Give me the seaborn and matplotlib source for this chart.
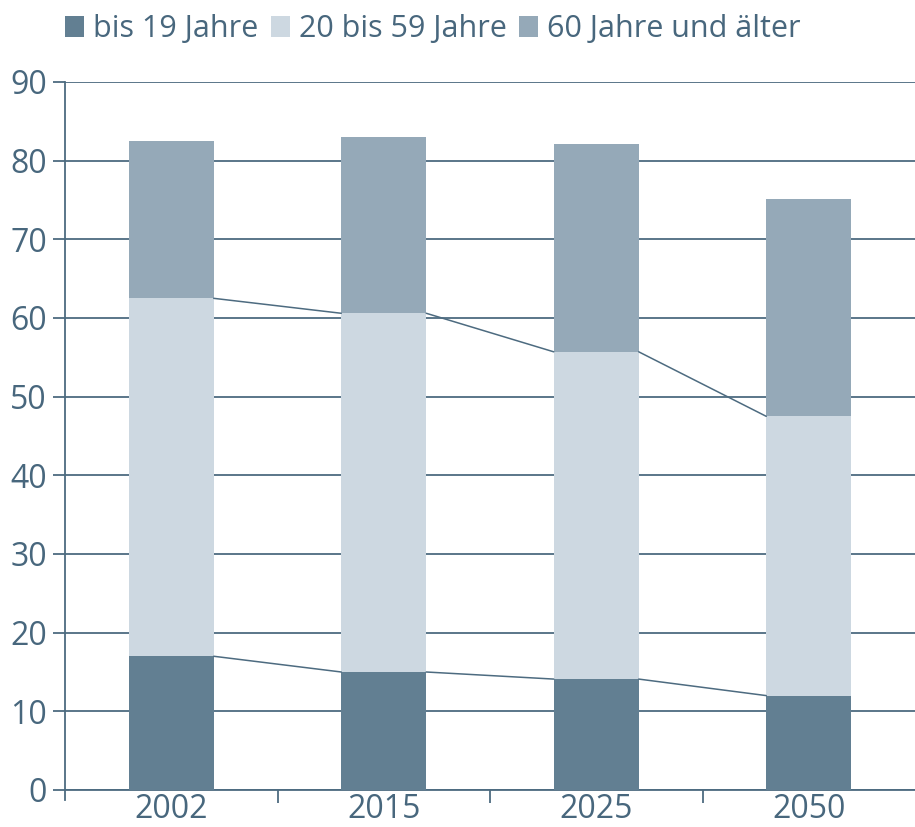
import matplotlib
matplotlib.use("Agg")
import matplotlib.pyplot as plt
import seaborn as sns
import pandas as pd
import numpy as np

years = ["2002", "2015", "2025", "2050"]
bis19 = [17.0, 15.0, 14.1, 12.0]
mitte = [45.5, 45.6, 41.6, 35.5]
alt60 = [20.0, 22.4, 26.4, 27.6]
labels = ["bis 19 Jahre", "20 bis 59 Jahre", "60 Jahre und älter"]
colors = ["#627f92", "#cdd8e1", "#95a9b8"]
text_c = "#48677d"
line_c = "#4d6b80"

sns.set_theme(style="white")
plt.rcParams["font.family"] = ["Open Sans", "DejaVu Sans"]

df = pd.DataFrame({"Jahr": years, labels[0]: bis19, labels[1]: mitte, labels[2]: alt60})

fig = plt.figure(figsize=(9.15, 8.27), dpi=100)
ax = fig.add_axes([65 / 915, 1 - 790 / 827, 850 / 915, (790 - 82) / 827])

bottom = np.zeros(len(years))
tops = []
for lab, col in zip(labels, colors):
    sns.barplot(data=df, x="Jahr", y=lab, color=col, width=0.4, bottom=bottom,
                saturation=1, label=lab, ax=ax, zorder=3, linewidth=0)
    bottom = bottom + df[lab].to_numpy()
    tops.append(bottom.copy())

# Verbindungslinien zwischen den Säulen
for level in tops[:2]:
    for i in range(len(years) - 1):
        ax.plot([i + 0.2, i + 0.8], [level[i], level[i + 1]], color=line_c, lw=1.1, zorder=4)

ax.set_xlim(-0.5, 3.5)
ax.set_ylim(0, 90)
ax.set_yticks(range(0, 91, 10))
ax.yaxis.grid(True, color=line_c, lw=1.3, zorder=0)
ax.set_xlabel("")
ax.set_ylabel("")
for s in ["top", "right"]:
    ax.spines[s].set_visible(False)
for s in ["left", "bottom"]:
    ax.spines[s].set_color(line_c)
    ax.spines[s].set_linewidth(1.3)
ax.spines["left"].set_bounds(-1.3, 90)

ax.set_xticks([0.5, 1.5, 2.5], minor=True)
ax.tick_params(axis="x", which="major", length=0, pad=2, labelsize=23, labelcolor=text_c)
ax.tick_params(axis="x", which="minor", length=9, width=1.3, color=line_c, bottom=True)
ax.tick_params(axis="y", length=9, width=1.3, color=line_c, left=True, pad=4,
               labelsize=23, labelcolor=text_c)

ax.legend(loc="upper left", bbox_to_anchor=(0, 1 + 68 / 708), ncol=3, frameon=False,
          fontsize=22, labelcolor=text_c, handlelength=0.62, handleheight=0.7,
          handletextpad=0.3, columnspacing=0.4, borderaxespad=0, borderpad=0)

fig.savefig("out.png", dpi=100)
